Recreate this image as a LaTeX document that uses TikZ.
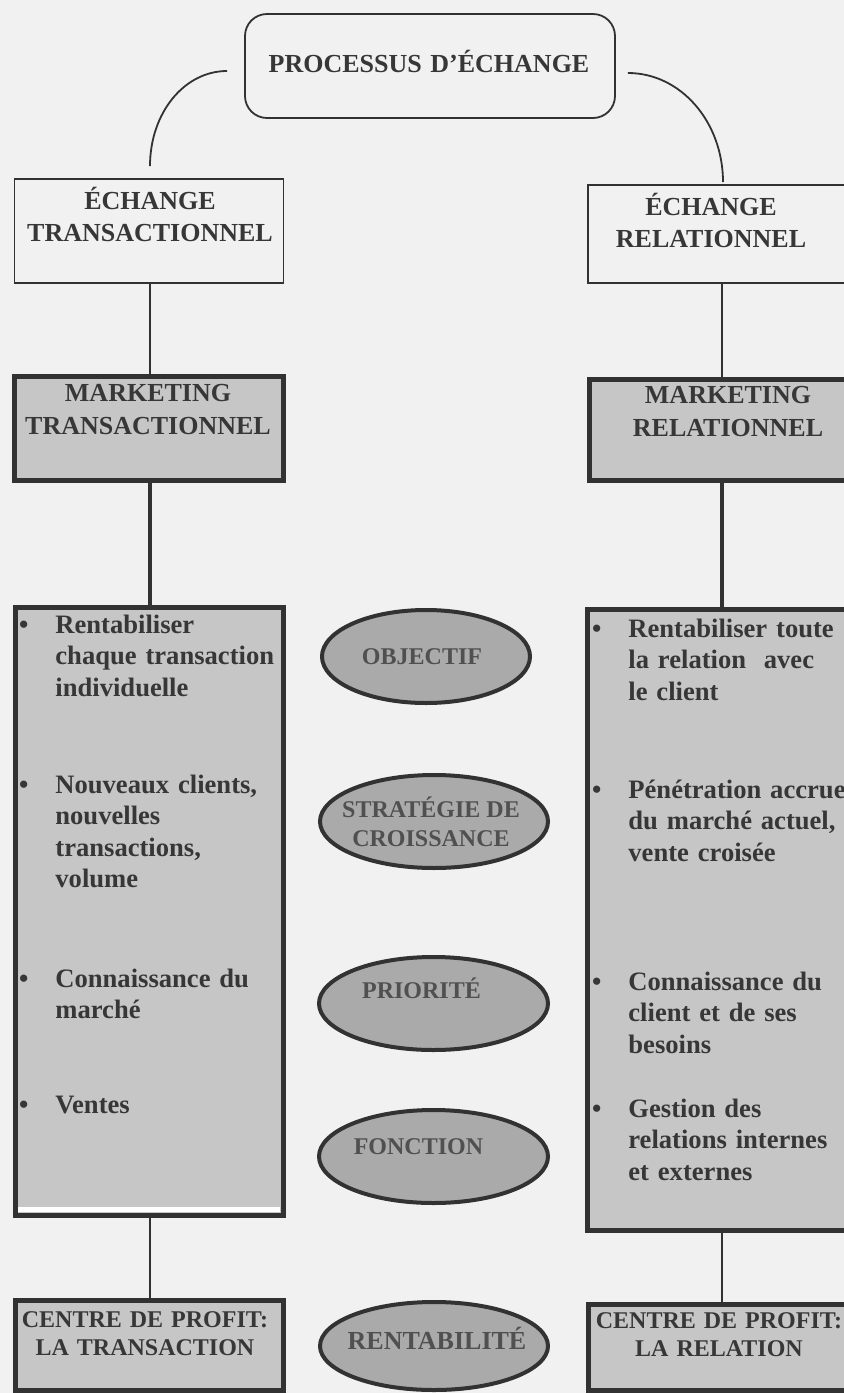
\documentclass[tikz,border=0pt]{standalone}
\usepackage{fontspec}
\setmainfont{Liberation Serif}
\usetikzlibrary{shapes.geometric, calc}

\definecolor{bggray}{RGB}{241, 241, 241}
\definecolor{boxgray}{RGB}{198, 198, 198}
\definecolor{ovalgray}{RGB}{170, 170, 170}
\definecolor{linegray}{RGB}{50, 50, 50}
\definecolor{inkgray}{RGB}{55, 55, 55}
\definecolor{ovalink}{RGB}{80, 80, 80}

\newcommand{\itembullet}{\llap{•\hspace{13.5pt}}}

\tikzset{
  plainbox/.style={rectangle, draw=linegray, line width=0.9pt, fill=bggray, inner sep=0pt},
  shadedbox/.style={rectangle, draw=linegray, line width=2.5pt, fill=boxgray, inner sep=0pt},
  oval/.style={ellipse, draw=linegray, line width=2pt, fill=ovalgray, inner sep=0pt},
  ovallabel/.style={inner sep=0pt, text=ovalink, align=center,
    font=\fontsize{12}{14.5}\selectfont\bfseries},
  boxlabel/.style={anchor=base, inner sep=0pt, text=inkgray, text width=140pt, align=center,
    font=\fontsize{13}{16}\selectfont\bfseries},
  bullettext/.style={anchor=base west, inner sep=0pt, text=inkgray, text width=120pt, align=left,
    font=\fontsize{13.3}{15.8}\selectfont\bfseries},
  thinlink/.style={draw=linegray, line width=0.9pt},
  thicklink/.style={draw=linegray, line width=2pt},
}

\begin{document}
\begin{tikzpicture}[x=0.5pt, y=-0.5pt]
  \useasboundingbox (0,0) rectangle (844,1393);
  \clip (0,0) rectangle (844,1393);
  \fill[bggray] (0,0) rectangle (844,1393);

  % Exchange process
  \node[plainbox, rounded corners=11pt, minimum width=185pt, minimum height=52pt] (proc) at (430,66) {};
  \node[boxlabel, text width=190pt] (procText) at (429,72) {PROCESSUS D’ÉCHANGE};

  % Exchange boxes
  \node[plainbox, minimum width=134.5pt, minimum height=52pt] (echT) at (149,231) {};
  \node[boxlabel] (echTText) at (150,209) {ÉCHANGE\\TRANSACTIONNEL};
  \node[plainbox, minimum width=135pt, minimum height=49pt] (echR) at (723,234) {};
  \node[boxlabel] (echRText) at (711,215) {ÉCHANGE\\RELATIONNEL};

  % Marketing boxes
  \node[shadedbox, minimum width=134.5pt, minimum height=52pt] (mktT) at (149,428.5) {};
  \node[boxlabel, font=\fontsize{13}{16.5}\selectfont\bfseries] (mktTText) at (148,401) {MARKETING\\TRANSACTIONNEL};
  \node[shadedbox, minimum width=134.5pt, minimum height=50.5pt] (mktR) at (723.5,430) {};
  \node[boxlabel, font=\fontsize{13}{16.5}\selectfont\bfseries] (mktRText) at (728,403) {MARKETING\\RELATIONNEL};

  % Lists
  \node[shadedbox, minimum width=134pt, minimum height=304pt] (listT) at (149,911.5) {};
  \fill[white] (18,1207) rectangle (280,1212);
  \node[shadedbox, minimum width=135.5pt, minimum height=310.5pt] (listR) at (723,920) {};

  \node[bullettext] (objT) at (55,633) {\itembullet Rentabiliser\\chaque transaction\\individuelle};
  \node[bullettext] (croisT) at (55,793) {\itembullet Nouveaux clients,\\nouvelles\\transactions,\\volume};
  \node[bullettext] (prioT) at (55,987) {\itembullet Connaissance du\\marché};
  \node[bullettext] (fonctT) at (55,1113) {\itembullet Ventes};

  \node[bullettext] (objR) at (628,637) {\itembullet Rentabiliser toute\\la relation\ \ avec\\le client};
  \node[bullettext] (croisR) at (628,798) {\itembullet Pénétration accrue\\du marché actuel,\\vente croisée};
  \node[bullettext] (prioR) at (628,990) {\itembullet Connaissance du\\client et de ses\\besoins};
  \node[bullettext] (fonctR) at (628,1117) {\itembullet Gestion des\\relations internes\\et externes};

  % Profit centres
  \node[shadedbox, minimum width=134pt, minimum height=45pt] (ctrT) at (149,1345.5) {};
  \node[boxlabel, font=\fontsize{12}{14}\selectfont\bfseries] (ctrTText) at (145,1327) {CENTRE DE PROFIT:\\LA TRANSACTION};
  \node[shadedbox, minimum width=135pt, minimum height=43pt] (ctrR) at (723,1347.5) {};
  \node[boxlabel, font=\fontsize{12}{14}\selectfont\bfseries] (ctrRText) at (719,1328) {CENTRE DE PROFIT:\\LA RELATION};

  % Criteria
  \node[oval, minimum width=104pt, minimum height=46.5pt] (objectif) at (426,656.5) {};
  \node[ovallabel] (objectifText) at ($(objectif)+(-4,0)$) {OBJECTIF};
  \node[oval, minimum width=114pt, minimum height=46.5pt] (strategie) at (434,821.5) {};
  \node[ovallabel] (strategieText) at ($(strategie)+(-3,0)$) {STRATÉGIE DE\\CROISSANCE};
  \node[oval, minimum width=114.5pt, minimum height=46.5pt] (priorite) at (433.5,1003.5) {};
  \node[ovallabel] (prioriteText) at ($(priorite)+(-12,-15)$) {PRIORITÉ};
  \node[oval, minimum width=114.5pt, minimum height=46.5pt] (fonction) at (433.5,1156.5) {};
  \node[ovallabel] (fonctionText) at ($(fonction)+(-15,-10)$) {FONCTION};
  \node[oval, minimum width=114pt, minimum height=44pt] (rentab) at (434,1346) {};
  \node[ovallabel, font=\fontsize{13}{15}\selectfont\bfseries] (rentabText) at ($(rentab)+(3,-8)$) {RENTABILITÉ};

  % Links
  \draw[thinlink] ($(proc.west)+(-17,5)$) .. controls +(-43,0) and +(0,-53) .. ($(echT.north)+(1,-12)$);
  \draw[thinlink] ($(proc.east)+(12,7)$) .. controls +(53,0) and +(0,-60) .. ($(echR.north)+(0,-2)$);
  \draw[thinlink] ($(echT.south)+(1,0)$) -- ($(mktT.north)+(1,0)$);
  \draw[thinlink] ($(echR.south)+(-1,0)$) -- ($(mktR.north)+(-1.5,0)$);
  \draw[thicklink] ($(mktT.south)+(1,0)$) -- ($(listT.north)+(1,0)$);
  \draw[thicklink] ($(mktR.south)+(-1.5,0)$) -- ($(listR.north)+(-1,0)$);
  \draw[thinlink, line width=0.7pt] ($(listT.south)+(1,0)$) -- ($(ctrT.north)+(1,0)$);
  \draw[thinlink, line width=0.7pt] ($(listR.south)+(-1,0)$) -- ($(ctrR.north)+(-1,0)$);
\end{tikzpicture}
\end{document}
